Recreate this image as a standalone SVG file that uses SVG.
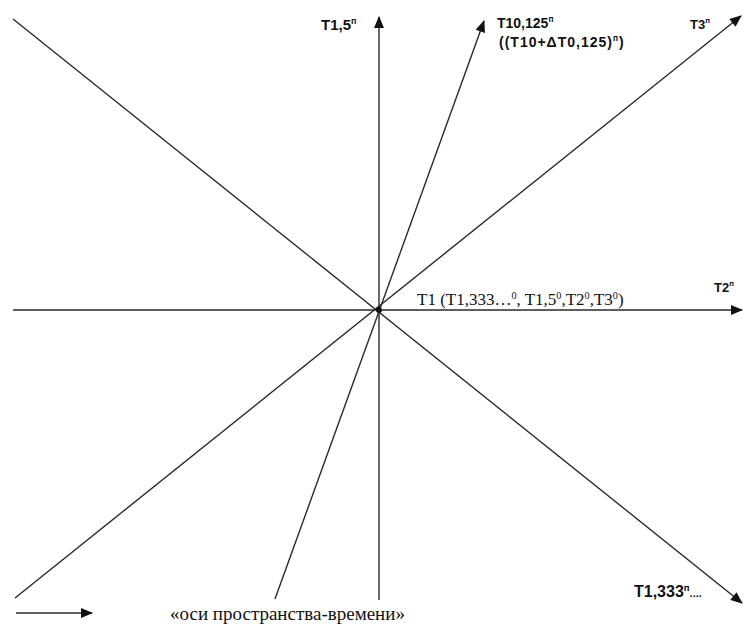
<svg xmlns="http://www.w3.org/2000/svg" width="745" height="626" viewBox="0 0 745 626">
<style>
.ax{stroke:#2a2a2a;stroke-width:1.4;fill:none}
.lb{font-family:"Liberation Sans",Arial,sans-serif;font-weight:bold;fill:#111}
.sr{font-family:"Liberation Serif","Times New Roman",serif;fill:#111}
.sp{font-size:0.6em}
</style>
<defs>
<marker id="ah" viewBox="0 0 12 10" refX="11" refY="5" markerWidth="13" markerHeight="10" markerUnits="userSpaceOnUse" orient="auto">
<path d="M0,0 L12,5 L0,10 Z" fill="#111"/>
</marker>
</defs>
<rect width="745" height="626" fill="#fff"/>
<g id="connectors">
<line class="ax" x1="13" y1="310" x2="742" y2="310" marker-end="url(#ah)"/>
<line class="ax" x1="379" y1="600" x2="379" y2="17" marker-end="url(#ah)"/>
<line class="ax" x1="13" y1="19" x2="742" y2="603" marker-end="url(#ah)"/>
<line class="ax" x1="15" y1="598" x2="741" y2="16" marker-end="url(#ah)"/>
<line class="ax" x1="275" y1="599" x2="484" y2="21" marker-end="url(#ah)"/>
<line class="ax" x1="16" y1="613" x2="92" y2="613" marker-end="url(#ah)"/>
</g>
<g id="center"><circle cx="379" cy="310" r="3" fill="#111"/></g>
<g id="label-t15"><text class="lb" x="321" y="30" font-size="15" style="font-size:15px">T1,5<tspan class="sp" dy="-6">п</tspan></text></g>
<g id="label-t10"><text class="lb" x="497" y="28" style="font-size:14px">T10,125<tspan class="sp" dy="-6">п</tspan></text>
<text class="lb" x="499" y="47" style="font-size:14px;letter-spacing:1px">((T10+ΔT0,125)<tspan class="sp" dy="-6">п</tspan><tspan dy="6">)</tspan></text></g>
<g id="label-t3"><text class="lb" x="690" y="29" style="font-size:13px">T3<tspan class="sp" dy="-6">п</tspan></text></g>
<g id="label-t2"><text class="lb" x="714" y="292" style="font-size:13px">T2<tspan class="sp" dy="-6">п</tspan></text></g>
<g id="label-t1333"><text class="lb" x="634" y="597" style="font-size:16px">T1,333<tspan class="sp" dy="-6">п</tspan><tspan dy="6" style="font-size:11px">....</tspan></text></g>
<g id="label-center"><text class="sr" x="417" y="305" style="font-size:17px">T1 (T1,333…<tspan class="sp" dy="-6">0</tspan><tspan dy="6">, T1,5</tspan><tspan class="sp" dy="-6">0</tspan><tspan dy="6">,T2</tspan><tspan class="sp" dy="-6">0</tspan><tspan dy="6">,T3</tspan><tspan class="sp" dy="-6">0</tspan><tspan dy="6">)</tspan></text></g>
<g id="label-bottom"><text class="sr" x="170" y="620" style="font-size:19px">«оси пространства-времени»</text></g>
</svg>
